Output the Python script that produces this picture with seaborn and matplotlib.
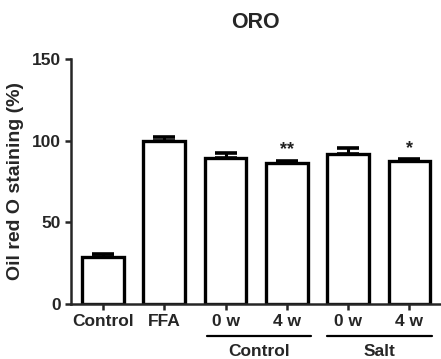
import numpy as np
import pandas as pd
import matplotlib
matplotlib.use("Agg")
import matplotlib.pyplot as plt
import seaborn as sns

# -------------------------------
# Data
# -------------------------------
conditions = ["Control", "FFA", "Control 0 w", "Control 4 w", "Salt 0 w", "Salt 4 w"]
tick_labels = ["Control", "FFA", "0 w", "4 w", "0 w", "4 w"]
means = [29.0, 100.0, 89.5, 86.0, 92.0, 87.5]
sems = [1.4, 2.2, 3.2, 1.8, 3.6, 1.2]
stars = ["", "", "", "**", "", "*"]
groups = ["Control", "Salt"]

df = pd.DataFrame({"condition": conditions, "value": means})

sns.set_style("ticks")
plt.rcParams["font.family"] = ["Liberation Sans", "DejaVu Sans"]
plt.rcParams["font.weight"] = "bold"

fig = plt.figure(figsize=(4.41, 3.59), dpi=100)
ax = fig.add_axes([0.161, 0.153, 0.837, 0.683])

sns.barplot(data=df, x="condition", y="value", order=conditions,
            color="white", edgecolor="black", linewidth=2.4,
            width=0.68, errorbar=None, ax=ax)

x = np.arange(len(conditions))
ax.errorbar(x, means, yerr=[np.zeros(len(sems)), sems], fmt="none",
            ecolor="black", elinewidth=2.2, capsize=8, capthick=2.6, zorder=1)

for xi, m, s, st in zip(x, means, sems, stars):
    if st:
        ax.text(xi, m + s + 1.5, st, ha="center", va="bottom",
                fontsize=13, fontweight="bold", color="#222222")

ax.set_ylim(0, 150)
ax.set_xlim(-0.52, 5.5)
ax.set_yticks([0, 50, 100, 150])
ax.set_xticks(x)
ax.set_xticklabels(tick_labels)
ax.tick_params(axis="both", labelsize=12.5, width=1.8, length=4.5,
               direction="out", pad=2.5)
for lab in ax.get_xticklabels() + ax.get_yticklabels():
    lab.set_fontweight("bold")

ax.set_xlabel("")
ax.set_ylabel("Oil red O staining (%)", fontsize=14, fontweight="bold", labelpad=6)
ax.set_title("ORO", fontsize=15.5, fontweight="bold", pad=22)

sns.despine(ax=ax)
ax.spines["left"].set_linewidth(1.8)
ax.spines["bottom"].set_linewidth(1.8)

# group brackets under the x tick labels
trans = ax.get_xaxis_transform()
spans = [(1.7, 3.4), (3.65, 5.37)]
for (a, b), name in zip(spans, groups):
    ax.plot([a, b], [-0.131, -0.131], color="black", lw=1.6,
            transform=trans, clip_on=False)
    ax.text((a + b) / 2, -0.162, name, transform=trans, ha="center", va="top",
            fontsize=12.5, fontweight="bold")

fig.savefig("out.png", dpi=100)
